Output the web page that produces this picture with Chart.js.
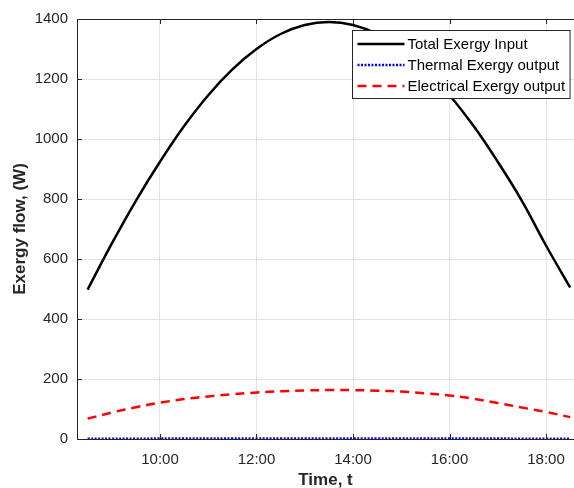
<!DOCTYPE html>
<html>
<head>
<meta charset="utf-8">
<script src="https://cdn.jsdelivr.net/npm/chart.js@4.4.0/dist/chart.umd.min.js"></script>
<style>
  html, body { margin: 0; padding: 0; background: #fff; overflow: hidden; }
  canvas { display: block; }
</style>
</head>
<body>
<canvas id="c" width="574" height="488"></canvas>
<script>
// ---- data ----
const times = [8.5, 9, 9.5, 10, 10.5, 11, 11.5, 12, 12.5, 13, 13.5, 14, 14.5, 15, 15.5, 16, 16.5, 17, 17.5, 18, 18.5];
const totalInput = [498, 651, 794, 924, 1043, 1146, 1232, 1300, 1350, 1380, 1390, 1380, 1350, 1300, 1232, 1146, 1043, 924, 794, 645, 505];
const thermalOutput = [1, 1, 1, 1.5, 1.5, 2, 2, 2, 2, 2, 2, 2, 2, 2, 2, 2, 1.5, 1.5, 1, 1, 1];
const electricalOutput = [68, 88, 106, 121, 133, 142, 149, 155, 159, 162, 163, 163, 161, 158, 152, 145, 134, 120, 105, 90, 73];
const xTickValues = [10, 12, 14, 16, 18];
const xTickLabels = ['10:00', '12:00', '14:00', '16:00', '18:00'];
const seriesLabels = ['Total Exergy Input', 'Thermal Exergy output', 'Electrical Exergy output'];

const FONT = '"Liberation Sans", Arial, Helvetica, sans-serif';
const AXIS = '#262626';
const GRID = '#e3e3e3';

const toPts = arr => arr.map((v, i) => ({ x: times[i], y: v }));

// inward tick marks (MATLAB style)
const innerTicks = {
  id: 'innerTicks',
  afterDraw(chart) {
    const { ctx, chartArea, scales } = chart;
    ctx.save();
    ctx.strokeStyle = AXIS;
    ctx.lineWidth = 1;
    ctx.beginPath();
    scales.y.ticks.forEach(t => {
      const py = Math.round(scales.y.getPixelForValue(t.value)) + 0.5;
      ctx.moveTo(chartArea.left, py);
      ctx.lineTo(chartArea.left + 5, py);
    });
    scales.x.ticks.forEach(t => {
      const px = Math.round(scales.x.getPixelForValue(t.value)) + 0.5;
      ctx.moveTo(px, chartArea.bottom);
      ctx.lineTo(px, chartArea.bottom - 5);
      ctx.moveTo(px, chartArea.top);
      ctx.lineTo(px, chartArea.top + 5);
    });
    ctx.stroke();
    ctx.restore();
  }
};

const legendPlugin = {
  id: 'boxLegend',
  afterDraw(chart) {
    const { ctx, chartArea } = chart;
    const items = chart.data.datasets;
    ctx.save();
    ctx.font = '15px ' + FONT;
    const sampleW = 47, padL = 5, gap = 3, padR = 5, rowH = 21;
    const textW = Math.max(...items.map(d => ctx.measureText(d.label).width));
    const w = padL + sampleW + gap + textW + padR;
    const h = 68;
    const x = Math.round(chartArea.right - 4 - w) + 0.5;
    const y = Math.round(chartArea.top + 11) + 0.5;
    ctx.fillStyle = '#fff';
    ctx.fillRect(x, y, w, h);
    ctx.strokeStyle = AXIS;
    ctx.lineWidth = 1;
    ctx.setLineDash([]);
    ctx.strokeRect(x, y, w, h);
    items.forEach((d, i) => {
      const ry = y + 13.5 + rowH * i;
      ctx.save();
      ctx.strokeStyle = d.borderColor;
      ctx.lineWidth = d.borderWidth;
      ctx.setLineDash(d.borderDash || []);
      ctx.beginPath();
      ctx.moveTo(x + padL, ry);
      ctx.lineTo(x + padL + sampleW, ry);
      ctx.stroke();
      ctx.restore();
      ctx.fillStyle = '#000';
      ctx.textBaseline = 'middle';
      ctx.textAlign = 'left';
      ctx.fillText(d.label, x + padL + sampleW + gap, ry + 1);
    });
    ctx.restore();
  }
};

new Chart(document.getElementById('c'), {
  type: 'line',
  data: {
    datasets: [
      { label: seriesLabels[0], data: toPts(totalInput), borderColor: '#000000', borderWidth: 2.5, pointRadius: 0, tension: 0.4, fill: false },
      { label: seriesLabels[1], data: toPts(thermalOutput), borderColor: '#0000ff', borderWidth: 2.5, borderDash: [2, 1.5], pointRadius: 0, tension: 0.4, fill: false },
      { label: seriesLabels[2], data: toPts(electricalOutput), borderColor: '#ff0000', borderWidth: 2.5, borderDash: [9, 6], pointRadius: 0, tension: 0.4, fill: false }
    ]
  },
  options: {
    responsive: false,
    animation: false,
    devicePixelRatio: 1,
    layout: { padding: { top: 19, right: 0, left: 0, bottom: 0 } },
    plugins: { legend: { display: false }, tooltip: { enabled: false } },
    scales: {
      x: {
        type: 'linear',
        min: 8.28,
        max: 18.58,
        afterBuildTicks: s => { s.ticks = xTickValues.map(v => ({ value: v })); },
        afterFit: s => { s.height = 49; s.paddingLeft = 0; s.paddingRight = 0; },
        ticks: {
          callback: (v, i) => xTickLabels[i],
          font: { family: FONT, size: 15 },
          color: AXIS,
          padding: 12,
          maxRotation: 0
        },
        grid: { color: GRID, lineWidth: 1, drawTicks: false },
        border: { display: true, color: AXIS, width: 1 },
        title: {
          display: true,
          text: 'Time, t',
          font: { family: FONT, size: 17, weight: 'bold' },
          color: AXIS,
          padding: { top: 0, bottom: -3 }
        }
      },
      y: {
        min: 0,
        max: 1400,
        afterFit: s => { s.width = 77; },
        ticks: {
          stepSize: 200,
          callback: v => String(v),
          font: { family: FONT, size: 15 },
          color: AXIS,
          padding: 9
        },
        grid: {
          color: c => (c.tick && c.tick.value === 1400) ? AXIS : GRID,
          lineWidth: 1,
          drawTicks: false
        },
        border: { display: true, color: AXIS, width: 1 },
        title: {
          display: true,
          text: 'Exergy flow, (W)',
          font: { family: FONT, size: 17, weight: 'bold' },
          color: AXIS,
          padding: { top: 10, bottom: 0 }
        }
      }
    }
  },
  plugins: [innerTicks, legendPlugin]
});
</script>
</body>
</html>
